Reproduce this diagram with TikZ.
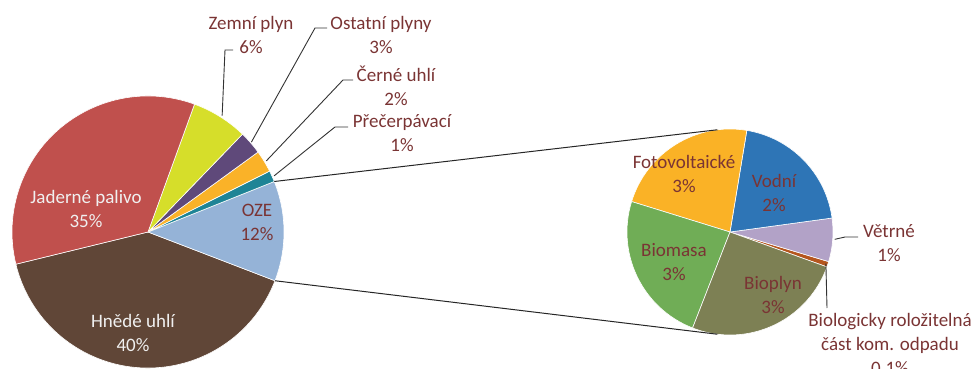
\documentclass[tikz,border=0pt]{standalone}
\usepackage{fontspec}
\setmainfont{Carlito}
\usepackage{xcolor}
\usetikzlibrary{positioning,calc}

\definecolor{labelred}{RGB}{122,52,52}
\definecolor{jadcol}{RGB}{192,80,77}
\definecolor{hnecol}{RGB}{96,70,55}
\definecolor{ozecol}{RGB}{149,179,215}
\definecolor{precol}{RGB}{30,132,150}
\definecolor{cercol}{RGB}{250,178,40}
\definecolor{ostcol}{RGB}{95,73,122}
\definecolor{zemcol}{RGB}{214,222,42}
\definecolor{vodcol}{RGB}{46,117,182}
\definecolor{fotcol}{RGB}{250,178,38}
\definecolor{biomcol}{RGB}{112,173,86}
\definecolor{bioplcol}{RGB}{125,128,84}
\definecolor{odpcol}{RGB}{181,86,30}
\definecolor{vetcol}{RGB}{178,162,199}

\begin{document}
\begin{tikzpicture}[x=1pt, y=1pt,
    slice/.style={draw=white, line width=0.6pt},
    lbl/.style={font=\fontsize{19}{24}\selectfont, text=labelred, align=center, inner sep=0pt},
    lblw/.style={lbl, text=white!94!black},
    leader/.style={draw=black!80, line width=0.9pt},
    zoomline/.style={draw=black!85, line width=1pt}
]
    \useasboundingbox (0,0) rectangle (977,368);
    \coordinate (main) at (148,136);
    \coordinate (sec) at (730,136);

    % Main pie
    \foreach \a/\b/\c in {193.7/339/hnecol, -21/21.8/ozecol, 21.8/26.6/precol,
        26.6/36/cercol, 36/46/ostcol, 46/70/zemcol, 70/193.7/jadcol}
        \filldraw[slice, fill=\c] (main) -- ++(\a:136pt) arc (\a:\b:136pt) -- cycle;

    % Second pie (OZE)
    \foreach \a/\b/\c in {-19.8/-16.7/odpcol, -16.7/7.8/vetcol, 7.8/80.6/vodcol,
        80.6/162.8/fotcol, 162.8/248.7/biomcol, 248.7/340.2/bioplcol}
        \filldraw[slice, fill=\c] (sec) -- ++(\a:103pt) arc (\a:\b:103pt) -- cycle;

    % Connectors between the pies
    \coordinate (ozetop) at ($(main)+(21.8:136pt)$);
    \coordinate (ozebot) at ($(main)+(-21:136pt)$);
    \coordinate (sectop) at ($(sec)+(97:103pt)$);
    \coordinate (secbot) at ($(sec)+(263:103pt)$);
    \path[zoomline] (ozetop) -- (sectop);
    \path[zoomline] (ozebot) -- (secbot);

    % Labels inside
    \node[lblw] (jaderne) at (86,159) {Jaderné palivo\\35\%};
    \node[lblw] (hnede) at (133,35) {Hnědé uhlí\\40\%};
    \node[lbl] (oze) at (257,146) {OZE\\12\%};
    \node[lbl] (foto) at (684,194) {Fotovoltaické\\3\%};
    \node[lbl] (vodni) at (774,175) {Vodní\\2\%};
    \node[lbl] (biomasa) at (674,106) {Biomasa\\3\%};
    \node[lbl] (bioplyn) at (773,73) {Bioplyn\\3\%};

    % Labels outside
    \node[lbl] (zemni) at (251,333) {Zemní plyn\\6\%};
    \node[lbl] (ostatni) at (381,333) {Ostatní plyny\\3\%};
    \node[lbl] (cerne) at (396,282) {Černé uhlí\\2\%};
    \node[lbl] (precerp) at (402,235) {Přečerpávací\\1\%};
    \node[lbl] (vetrne) at (889,125) {Větrné\\1\%};
    \node[lbl] (odpad) at (890,23) {Biologicky roložitelná\\část kom. odpadu\\0,1\%};

    % Leaders
    \coordinate (zemrim) at ($(main)+(57.5:138pt)$);
    \coordinate (ostrim) at ($(main)+(41:137pt)$);
    \coordinate (cerrim) at ($(main)+(31:138pt)$);
    \coordinate (prerim) at ($(main)+(24:138pt)$);
    \coordinate (vetrim) at ($(sec)+(-4:105pt)$);
    \coordinate (odprim) at ($(sec)+(-18.3:101pt)$);
    \path[leader] (zemrim) -- (225,318) -- (233,318);
    \path[leader] (ostrim) -- (315,340) -- (327,340);
    \path[leader] (cerrim) -- (343,288) -- (353,288);
    \path[leader] (prerim) -- (335,241) -- (348,241);
    \path[leader] (vetrim) -- (845,131) -- (858,131);
    \path[leader] (odprim) -- (827,60);
\end{tikzpicture}
\end{document}
